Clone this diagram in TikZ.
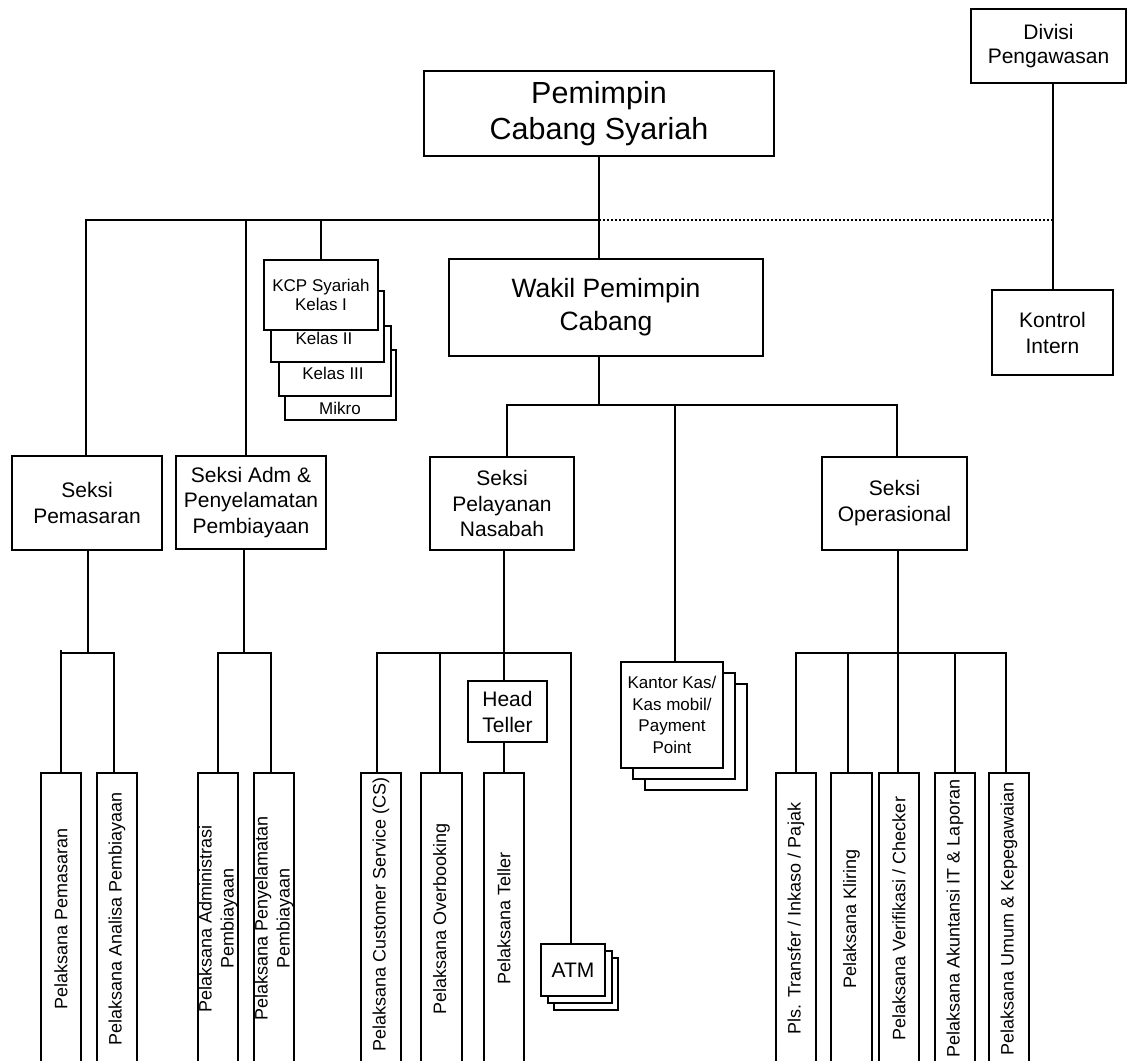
\documentclass[tikz,border=0pt]{standalone}
\usepackage{fontspec}
\setmainfont{Liberation Sans}
\begin{document}
\begin{tikzpicture}[x=1pt,y=-1pt,
  conn/.style={line width=1.3pt, line cap=rect},
  dotline/.style={line width=1.1pt, dash pattern=on 2pt off 2pt},
  box/.style={draw, fill=white, line width=1.3pt, inner sep=0pt, align=center, anchor=center},
  fbig/.style={font=\fontsize{30.5}{36}\selectfont},
  fwak/.style={font=\fontsize{26.5}{33}\selectfont},
  fmid/.style={font=\fontsize{21}{26}\selectfont},
  fsmall/.style={font=\fontsize{17}{21.5}\selectfont},
  fbot/.style={font=\fontsize{18}{22}\selectfont},
  lbl/.style={inner sep=0pt, align=center, anchor=center},
  rot/.style={inner sep=0pt, align=center, anchor=center, rotate=90, fbot},
  botbox/.style={box, minimum width=40pt, minimum height=291pt}
]
\useasboundingbox (0,0) rectangle (1128,1061);
\clip (0,0) rectangle (1128,1061);

% top level
\node[box, fbig, minimum width=350pt, minimum height=85pt] (pcs) at (599,113.5) {Pemimpin\\Cabang Syariah};
\node[box, font=\fontsize{21}{24}\selectfont, minimum width=155pt, minimum height=74pt] (div) at (1048.5,46) {Divisi\\Pengawasan};
\node[box, fmid, minimum width=121pt, minimum height=85pt] (ki) at (1052.5,332.5) {Kontrol\\Intern};
\node[box, fwak, minimum width=314pt, minimum height=97pt] (wpc) at (606,307.5) {Wakil Pemimpin\\Cabang};

% KCP stack
\node[box, minimum width=111pt, minimum height=70pt] (kcp4) at (340.5,385) {};
\node[box, minimum width=112pt, minimum height=70pt] (kcp3) at (335,361) {};
\node[box, minimum width=113pt, minimum height=71pt] (kcp2) at (327.5,326.5) {};
\node[box, font=\fontsize{17}{19.5}\selectfont, minimum width=114pt, minimum height=70pt] (kcp1) at (321,295) {KCP Syariah\\Kelas I};
\node[lbl, fsmall] (lk2) at (324,338) {Kelas II};
\node[lbl, fsmall] (lk3) at (333,373) {Kelas III};
\node[lbl, fsmall] (lk4) at (340,408) {Mikro};

% seksi level
\node[box, fmid, minimum width=150pt, minimum height=94pt] (sp) at (87,503) {Seksi\\Pemasaran};
\node[box, font=\fontsize{21}{25.5}\selectfont, minimum width=150pt, minimum height=93pt] (sadm) at (251,502.5) {Seksi Adm \&\\Penyelamatan\\Pembiayaan};
\node[box, font=\fontsize{21}{25.5}\selectfont, minimum width=144pt, minimum height=93pt] (spn) at (502,503.5) {Seksi\\Pelayanan\\Nasabah};
\node[box, fmid, minimum width=145pt, minimum height=93pt] (sop) at (894.5,503.5) {Seksi\\Operasional};

% head teller
\node[box, fmid, minimum width=79pt, minimum height=61pt] (ht) at (507.5,711.5) {Head\\Teller};

% Kantor kas stack
\node[box, minimum width=102pt, minimum height=106pt] (kk3) at (696,737) {};
\node[box, minimum width=102pt, minimum height=106pt] (kk2) at (684,726) {};
\node[box, fsmall, minimum width=102pt, minimum height=106pt] (kk1) at (672,715) {Kantor Kas/\\Kas mobil/\\Payment\\Point};

% ATM stack
\node[box, minimum width=64pt, minimum height=52pt] (atm3) at (586,984) {};
\node[box, minimum width=64pt, minimum height=52pt] (atm2) at (580,977) {};
\node[box, fmid, minimum width=64pt, minimum height=52pt] (atm1) at (573,970) {ATM};

% bottom boxes
\node[botbox] (b1) at (61,918.5) {};
\node[botbox] (b2) at (117,918.5) {};
\node[botbox] (b3) at (218,918.5) {};
\node[botbox] (b4) at (274,918.5) {};
\node[botbox] (b5) at (381,918.5) {};
\node[botbox, minimum width=41pt] (b6) at (441.5,918.5) {};
\node[botbox] (b7) at (504,918.5) {};
\node[botbox] (b8) at (796,918.5) {};
\node[botbox, minimum width=41pt] (b9) at (851.5,918.5) {};
\node[botbox] (b10) at (899,918.5) {};
\node[botbox] (b11) at (955,918.5) {};
\node[botbox] (b12) at (1009,918.5) {};

\node[rot] (t1) at (b1.center) {Pelaksana Pemasaran};
\node[rot] (t2) at (b2.center) {Pelaksana Analisa Pembiayaan};
\node[rot] (t3) at (b3.center) {Pelaksana Administrasi\\Pembiayaan};
\node[rot] (t4) at (b4.center) {Pelaksana Penyelamatan\\Pembiayaan};
\node[rot] (t5) at ([yshift=4.5pt]b5.center) {Pelaksana Customer Service (CS)};
\node[rot] (t6) at (b6.center) {Pelaksana Overbooking};
\node[rot] (t7) at (b7.center) {Pelaksana Teller};
\node[rot] (t8) at (b8.center) {Pls. Transfer / Inkaso / Pajak};
\node[rot] (t9) at (b9.center) {Pelaksana Kliring};
\node[rot] (t10) at (b10.center) {Pelaksana Verifikasi / Checker};
\node[rot] (t11) at (b11.center) {Pelaksana Akuntansi IT \& Laporan};
\node[rot] (t12) at (b12.center) {Pelaksana Umum \& Kepegawaian};

% top connectors
\coordinate (hL) at (86,220);
\coordinate (hA) at (246,220);
\coordinate (hK) at (321,220);
\coordinate (hM) at (599,220);
\coordinate (hR) at (1053,220);
\draw[conn] (pcs.south) -- (pcs.south |- wpc.north);
\draw[conn] (hL) -- (hM);
\draw[dotline] (hM) -- (hR);
\draw[conn] (hL) -- (hL |- sp.north);
\draw[conn] (hA) -- (hA |- sadm.north);
\draw[conn] (hK) -- (hK |- kcp1.north);
\draw[conn] (hR |- div.south) -- (hR |- ki.north);

% wakil connectors
\coordinate (m0) at (599,405);
\coordinate (mL) at (507,405);
\coordinate (mK) at (675,405);
\coordinate (mR) at (897,405);
\draw[conn] (m0 |- wpc.south) -- (m0);
\draw[conn] (mL) -- (mR);
\draw[conn] (mL) -- (mL |- spn.north);
\draw[conn] (mK) -- (mK |- kk1.north);
\draw[conn] (mR) -- (mR |- sop.north);

% pemasaran sub
\coordinate (p0) at (88,653);
\coordinate (pL) at (61,653);
\coordinate (pR) at (114,653);
\draw[conn] (p0 |- sp.south) -- (p0);
\draw[conn] (pL) -- (pR);
\draw[conn] ([yshift=2pt]pL) -- (pL |- b1.north);
\draw[conn] (pR) -- (pR |- b2.north);

% adm sub
\coordinate (a0) at (244,653);
\coordinate (aL) at (218,653);
\coordinate (aR) at (271,653);
\draw[conn] (a0 |- sadm.south) -- (a0);
\draw[conn] (aL) -- (aR);
\draw[conn] (aL) -- (aL |- b3.north);
\draw[conn] (aR) -- (aR |- b4.north);

% pelayanan sub
\coordinate (n0) at (504,653);
\coordinate (nL) at (377,653);
\coordinate (n2) at (440,653);
\coordinate (nR) at (571,653);
\draw[conn] (n0 |- spn.south) -- (n0);
\draw[conn] (nL) -- (nR);
\draw[conn] (nL) -- (nL |- b5.north);
\draw[conn] (n2) -- (n2 |- b6.north);
\draw[conn] (n0) -- (n0 |- ht.north);
\draw[conn] (n0 |- ht.south) -- (n0 |- b7.north);
\draw[conn] (nR) -- (nR |- atm1.north);

% operasional sub
\coordinate (o0) at (898,653);
\coordinate (o1) at (796,653);
\coordinate (o2) at (848,653);
\coordinate (o4) at (955,653);
\coordinate (o5) at (1006,653);
\draw[conn] (o0 |- sop.south) -- (o0);
\draw[conn] (o1) -- (o5);
\draw[conn] (o1) -- (o1 |- b8.north);
\draw[conn] (o2) -- (o2 |- b9.north);
\draw[conn] (o0) -- (o0 |- b10.north);
\draw[conn] (o4) -- (o4 |- b11.north);
\draw[conn] (o5) -- (o5 |- b12.north);
\end{tikzpicture}
\end{document}
